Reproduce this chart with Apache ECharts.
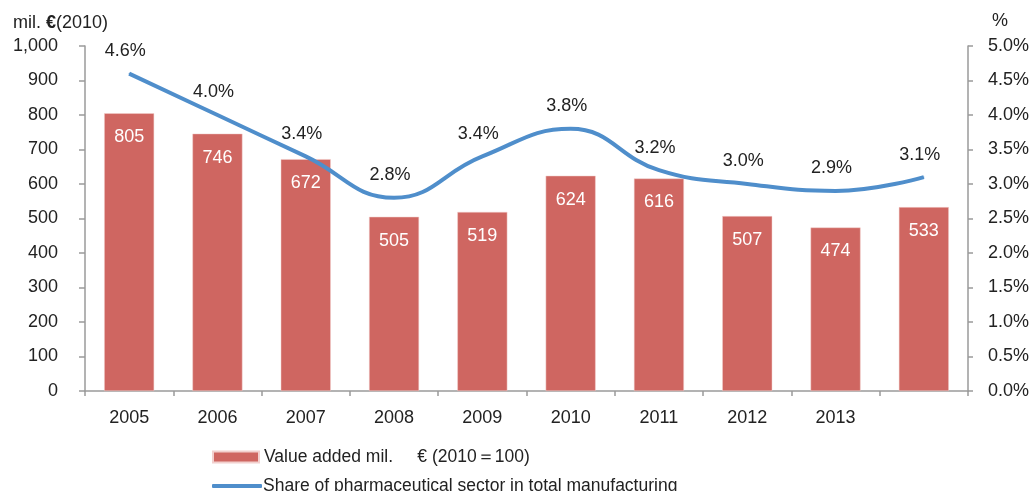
<!DOCTYPE html>
<html>
<head>
<meta charset="utf-8">
<script src="https://cdn.jsdelivr.net/npm/echarts@6/dist/echarts.min.js"></script>
<style>
  html, body { margin: 0; padding: 0; background: #fff; }
  #chart { width: 1033px; height: 491px; }
</style>
</head>
<body>
<div id="chart"></div>
<script>
// Years on the category axis (the last one carries no label)
var years = ['2005', '2006', '2007', '2008', '2009', '2010', '2011', '2012', '2013', ''];
// Value added, mil. € at 2010 prices
var valueAdded = [805, 746, 672, 505, 519, 624, 616, 507, 474, 533];
// Share of pharmaceutical sector in total manufacturing, %
var sharePct = [4.6, 4.0, 3.4, 2.8, 3.4, 3.8, 3.2, 3.0, 2.9, 3.1];

var barName = 'Value added mil.     € (2010＝100)';
var lineName = 'Share of pharmaceutical sector in total manufacturing';

var font = 'Liberation Sans, Arial, sans-serif';
var fs = 18;
var legendFs = 17.5;
var textColor = '#222';
var axisColor = '#9a9a9a';
var barColor = '#CF6661';
var lineColor = '#4F8ECB';

var chart = echarts.init(document.getElementById('chart'));
chart.setOption({
  animation: false,
  textStyle: { fontFamily: font },
  grid: { left: 85, right: 65, top: 46, bottom: 100, containLabel: false },
  graphic: [
    {
      type: 'text', left: 13, top: 14,
      style: {
        text: '{a|mil. }{b|€}{a|(2010)}',
        rich: {
          a: { fontSize: fs, fontFamily: font, fill: textColor, color: textColor },
          b: { fontSize: fs, fontFamily: font, fontWeight: 'bold', fill: textColor, color: textColor }
        }
      }
    },
    { type: 'text', left: 992, top: 12, style: { text: '%', fontSize: fs, fontFamily: font, fill: textColor } }
  ],
  legend: [
    {
      data: [barName], left: 207, top: 443, orient: 'vertical',
      icon: 'rect', itemWidth: 46, itemHeight: 11, itemGap: 10,
      textStyle: { fontSize: legendFs, color: textColor, fontFamily: font }
    },
    {
      data: [{ name: lineName, icon: 'roundRect' }], left: 207, top: 472, orient: 'vertical',
      itemWidth: 50, itemHeight: 4,
      textStyle: { fontSize: legendFs, color: textColor, fontFamily: font, padding: [0, 0, 0, -4] }
    }
  ],
  xAxis: {
    type: 'category',
    data: years,
    axisLine: { lineStyle: { color: axisColor, width: 1.5 } },
    axisTick: { show: true, alignWithLabel: false, length: 5, lineStyle: { color: axisColor, width: 1.5 } },
    axisLabel: { color: textColor, fontSize: fs, margin: 18, fontFamily: font }
  },
  yAxis: [
    {
      type: 'value', min: 0, max: 1000, interval: 100,
      axisLine: { show: true, lineStyle: { color: axisColor, width: 1.5 } },
      axisTick: { show: true, length: 6, lineStyle: { color: axisColor, width: 1.5 } },
      splitLine: { show: false },
      axisLabel: {
        color: textColor, fontSize: fs, margin: 27, fontFamily: font,
        formatter: function (v) { return v.toLocaleString('en-US'); }
      }
    },
    {
      type: 'value', min: 0, max: 5, interval: 0.5,
      position: 'right',
      axisLine: { show: true, lineStyle: { color: axisColor, width: 1.5 } },
      axisTick: { show: true, length: 5, lineStyle: { color: axisColor, width: 1.5 } },
      splitLine: { show: false },
      axisLabel: {
        color: textColor, fontSize: fs, margin: 20, fontFamily: font,
        formatter: function (v) { return v.toFixed(1) + '%'; }
      }
    }
  ],
  series: [
    {
      name: barName,
      type: 'bar',
      data: valueAdded,
      barWidth: 50,
      itemStyle: { color: barColor, borderColor: '#F2D0CE', borderWidth: 0.5 },
      label: {
        show: true, position: 'insideTop', distance: 15,
        color: '#fff', fontSize: fs, fontFamily: font
      }
    },
    {
      name: lineName,
      type: 'line',
      yAxisIndex: 1,
      data: sharePct,
      smooth: 0.45,
      showSymbol: true,
      symbol: 'circle',
      symbolSize: 1,
      lineStyle: { color: lineColor, width: 4 },
      itemStyle: { color: lineColor },
      label: {
        show: true, position: 'top', distance: 13, offset: [-4, 0],
        color: textColor, fontSize: fs, fontFamily: font,
        formatter: function (p) { return p.value.toFixed(1) + '%'; }
      }
    }
  ]
});
</script>
</body>
</html>
